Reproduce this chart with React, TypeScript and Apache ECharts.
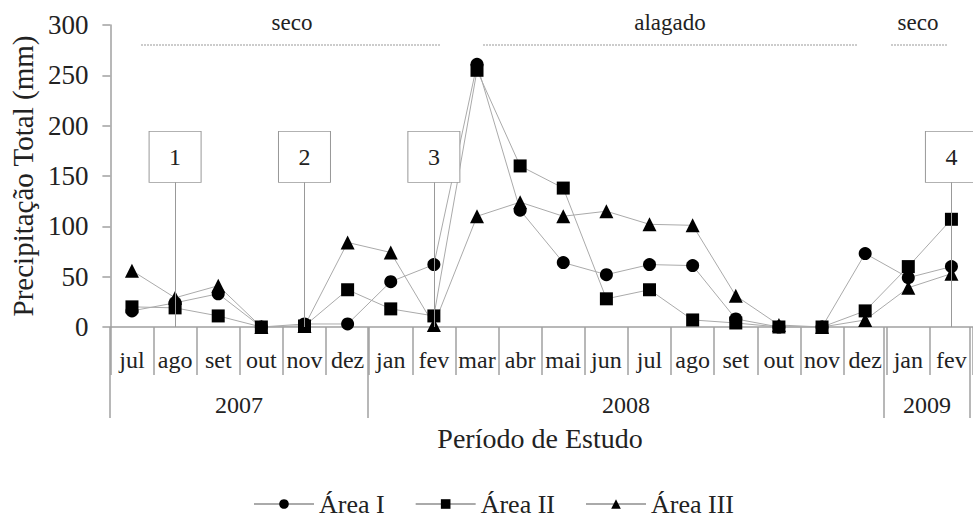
import React, { useEffect, useRef } from "react";
import * as echarts from "echarts";

const months = ["jul", "ago", "set", "out", "nov", "dez", "jan", "fev", "mar", "abr", "mai", "jun", "jul", "ago", "set", "out", "nov", "dez", "jan", "fev"];
// year axis: 21 boundary positions between months
const yearLabels = ["", "", "", "2007", "", "", "", "", "", "", "", "", "2008", "", "", "", "", "", "", "2009", ""];
const yearBoundaries = [0, 6, 18, 20];

const areaI = [16, 24, 33, 0, 3, 3, 45, 62, 261, 116, 64, 52, 62, 61, 8, 0, 0, 73, 49, 60];
const areaII = [20, 19, 11, 0, 1, 37, 18, 11, 255, 160, 138, 28, 37, 7, 4, 0, 0, 16, 60, 107];
const areaIII = [56, 29, 41, 0, 1, 84, 74, 2, 110, 124, 110, 115, 102, 101, 31, 2, 0, 7, 39, 53];

const seriesNames = ["Área I", "Área II", "Área III"];
const yTicks = { min: 0, max: 300, interval: 50 };

// numbered boxes (category index where each points)
const annotationIdx = [1, 4, 7, 19];
const annotationLabels = ["1", "2", "3", "4"];
const boxCenterValue = 169;
const boxBottomValue = 144;

// period labels along the top
const periods = [
  { text: "seco", x: 292, x1: 141, x2: 440 },
  { text: "alagado", x: 670, x1: 483, x2: 857 },
  { text: "seco", x: 918, x1: 891, x2: 948 },
];

const FONT = "Liberation Serif";
const TXT = "#222";
const AX = "#a0a0a0";

export default function App() {
  const ref = useRef<HTMLDivElement>(null);
  useEffect(() => {
    if (!ref.current) return;
    const chart = echarts.init(ref.current, null, { renderer: "svg" });
    const grid = { left: 110, top: 25, width: 869, height: 302 };
    const lineStyle = { color: "#aaaaaa", width: 1 };
    const mkSeries = (name: string, data: number[], symbol: string, size: number, extra: any = {}) => ({
      name,
      type: "line",
      data,
      symbol,
      symbolSize: size,
      itemStyle: { color: "#000" },
      lineStyle,
      xAxisIndex: 0,
      yAxisIndex: 0,
      ...extra,
    });
    chart.setOption({
      animation: false,
      textStyle: { fontFamily: FONT, color: TXT },
      grid: [grid, grid],
      legend: {
        data: seriesNames,
        left: 248,
        top: 486,
        itemWidth: 60,
        itemHeight: 12,
        itemGap: 30,
        textStyle: { fontFamily: FONT, fontSize: 26, color: TXT },
      },
      xAxis: [
        {
          type: "category",
          gridIndex: 0,
          data: months,
          boundaryGap: true,
          axisLine: { show: true, lineStyle: { color: AX, width: 1.5 } },
          axisTick: { show: true, interval: 0, length: 48, lineStyle: { color: AX, width: 1.5 } },
          axisLabel: { interval: 0, margin: 21, fontSize: 24, fontFamily: FONT, color: TXT },
          splitLine: { show: false },
        },
        {
          type: "category",
          gridIndex: 1,
          data: yearLabels,
          boundaryGap: false,
          axisLine: { show: false },
          axisTick: {
            show: true,
            length: 91,
            interval: (index: number) => yearBoundaries.includes(index),
            lineStyle: { color: AX, width: 1.5 },
          },
          axisLabel: { interval: 0, margin: 66, fontSize: 24, fontFamily: FONT, color: TXT },
          splitLine: { show: false },
          name: "Período de Estudo",
          nameLocation: "middle",
          nameGap: 97,
          nameTextStyle: { fontSize: 28, fontFamily: FONT, color: TXT },
        },
      ],
      yAxis: [
        {
          type: "value",
          gridIndex: 0,
          min: yTicks.min,
          max: yTicks.max,
          interval: yTicks.interval,
          axisLine: { show: true, lineStyle: { color: AX, width: 1.5 } },
          axisTick: { show: true, length: 8, lineStyle: { color: AX, width: 1.5 } },
          axisLabel: { margin: 22, fontSize: 27, fontFamily: FONT, color: TXT },
          splitLine: { show: false },
          name: "Precipitação Total (mm)",
          nameLocation: "middle",
          nameGap: 73,
          nameTextStyle: { fontSize: 29, fontFamily: FONT, color: TXT },
        },
        { type: "value", gridIndex: 1, show: false, min: yTicks.min, max: yTicks.max },
      ],
      series: [
        mkSeries(seriesNames[0], areaI, "circle", 13, {
          markLine: {
            silent: true,
            symbol: ["none", "none"],
            label: { show: false },
            lineStyle: { color: "#999", type: "solid", width: 1 },
            data: annotationIdx.map((idx) => [{ coord: [idx, 0] }, { coord: [idx, boxBottomValue] }]),
          },
          markPoint: {
            silent: true,
            symbol: "rect",
            symbolSize: [52, 51],
            itemStyle: { color: "#fff", borderColor: "#999", borderWidth: 1 },
            label: { show: true, position: "inside", fontSize: 24, fontFamily: FONT, color: TXT, formatter: (p: any) => p.name },
            data: annotationIdx.map((idx, i) => ({ name: annotationLabels[i], coord: [idx, boxCenterValue] })),
          },
        }),
        mkSeries(seriesNames[1], areaII, "rect", 13),
        mkSeries(seriesNames[2], areaIII, "triangle", 14),
      ],
      graphic: [
        ...periods.map((p) => ({
          type: "line",
          shape: { x1: p.x1, y1: 45, x2: p.x2, y2: 45 },
          style: { stroke: "#999", lineWidth: 1, lineDash: [2, 1] },
        })),
        ...periods.map((p) => ({
          type: "text",
          x: p.x,
          y: 22,
          style: {
            text: p.text,
            fontSize: 23,
            fontFamily: FONT,
            fill: TXT,
            align: "center",
            verticalAlign: "middle",
            textAlign: "center",
            textVerticalAlign: "middle",
          },
        })),
      ],
    });
    return () => chart.dispose();
  }, []);
  return <div ref={ref} style={{ position: "fixed", left: 0, top: 0, width: 973, height: 517, background: "#fff" }} />;
}
